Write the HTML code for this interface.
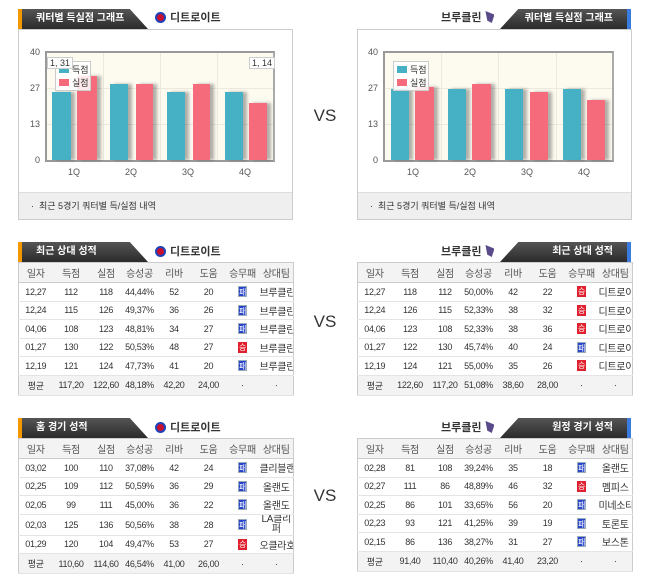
<!DOCTYPE html>
<html><head><meta charset="utf-8"><style>
*{margin:0;padding:0;box-sizing:border-box}
body{width:650px;height:588px;background:#fff;position:relative;overflow:hidden;font-family:"Liberation Sans","Noto Sans CJK KR",sans-serif;color:#333}
.a{position:absolute}
.tabL{position:absolute;height:20px;background:linear-gradient(#555,#2b2b2b);color:#fff;font-size:10px;font-weight:bold;line-height:20px;padding-left:14px;clip-path:polygon(0 0,86% 0,100% 100%,0 100%);border-left:4px solid #f39800}
.tabR{position:absolute;height:20px;background:linear-gradient(#555,#2b2b2b);color:#fff;font-size:10px;font-weight:bold;line-height:20px;text-align:right;padding-right:14px;clip-path:polygon(14% 0,100% 0,100% 100%,0 100%);border-right:4px solid #3a7be0}
.team{position:absolute;font-size:11px;font-weight:bold;color:#333;line-height:14px}
.logoD{display:inline-block;width:11px;height:11px;border-radius:50%;background:#c8102e;border:2px solid #1d42ba;vertical-align:-2px;margin-right:4px}
.logoB{display:inline-block;width:9px;height:12px;background:#5a4a8a;clip-path:polygon(0 0,100% 30%,70% 100%,20% 80%);vertical-align:-2px;margin-left:4px}
.box{position:absolute;border:1px solid #ccc;background:#fff}
.plot{position:absolute;background:#fdfaf0;border:2px solid #999;border-right-color:#aaa}
.g{position:absolute;background:#ece9dd}
.yl{position:absolute;font-size:9px;color:#555;width:20px;text-align:right}
.xl{position:absolute;font-size:9px;color:#555;width:30px;text-align:center}
.bar{position:absolute;box-shadow:4px 0 3px rgba(0,0,0,.3)}
.t{background:#46b0c5}.p{background:#f56b7b}
.foot{position:absolute;background:#efefef;border-top:1px solid #ddd;font-size:9px;color:#333;line-height:27px;padding-left:12px}
.vs{position:absolute;font-size:17px;color:#333;width:30px;text-align:center}
table{position:absolute;border-collapse:collapse;table-layout:fixed;font-size:9px;color:#333;border:1px solid #ccc}
td{text-align:center;border-bottom:1px solid #e4e4e4;height:18.5px;padding:0;white-space:nowrap;overflow:hidden;letter-spacing:-.3px}
tr.h td{background:#f3f3f3;height:20px;color:#555;border-bottom:1px solid #ccc;font-size:10px}
tr.v td{background:#f3f3f3;height:20px}
td.n{font-size:10px}
.L{display:inline-block;width:9px;height:11px;background:#2845c9;color:#fff;font-size:8px;line-height:11px;border:1px solid #9ab}
.W{display:inline-block;width:9px;height:11px;background:#e0202e;color:#fff;font-size:8px;line-height:11px}
</style></head><body>

<!-- Top left chart -->
<div class="tabL" style="left:18px;top:9px;width:130px">쿼터별 득실점 그래프</div>
<div class="team" style="left:155px;top:11px"><span class="logoD"></span>디트로이트</div>
<div class="box" style="left:18px;top:29px;width:275px;height:191px"></div>
<div class="plot" style="left:45px;top:51px;width:230px;height:111px"></div>
<div class="g" style="left:47px;top:88px;width:226px;height:1px"></div>
<div class="g" style="left:47px;top:124px;width:226px;height:1px"></div>
<div class="g" style="left:103px;top:53px;width:1px;height:107px"></div>
<div class="g" style="left:160px;top:53px;width:1px;height:107px"></div>
<div class="g" style="left:217px;top:53px;width:1px;height:107px"></div>
<div class="yl" style="left:20px;top:47px">40</div>
<div class="yl" style="left:20px;top:83px">27</div>
<div class="yl" style="left:20px;top:119px">13</div>
<div class="yl" style="left:20px;top:155px">0</div>
<div class="bar t" style="left:52px;top:92px;width:19px;height:68px"></div>
<div class="bar p" style="left:77px;top:76px;width:20px;height:84px"></div>
<div class="bar t" style="left:110px;top:84px;width:18px;height:76px"></div>
<div class="bar p" style="left:136px;top:84px;width:17px;height:76px"></div>
<div class="bar t" style="left:167px;top:92px;width:18px;height:68px"></div>
<div class="bar p" style="left:193px;top:84px;width:17px;height:76px"></div>
<div class="bar t" style="left:225px;top:92px;width:18px;height:68px"></div>
<div class="bar p" style="left:249px;top:103px;width:18px;height:57px"></div>
<div class="a" style="left:55px;top:61px;width:36px;height:30px;background:rgba(255,255,255,.85);border:1px solid #ccc;font-size:9px;line-height:13px;padding:2px 0 0 3px"><span style="display:inline-block;width:10px;height:7px;background:#46b0c5;margin-right:3px"></span>득점<br><span style="display:inline-block;width:10px;height:7px;background:#f56b7b;margin-right:3px"></span>실점</div>
<div class="a" style="left:47px;top:57px;font-size:9px;background:#fff;border:1px solid #ccc;padding:0 2px">1, 31</div>
<div class="a" style="left:249px;top:57px;font-size:9px;background:#fff;border:1px solid #ccc;padding:0 2px">1, 14</div>
<div class="xl" style="left:59px;top:167px">1Q</div>
<div class="xl" style="left:116px;top:167px">2Q</div>
<div class="xl" style="left:173px;top:167px">3Q</div>
<div class="xl" style="left:230px;top:167px">4Q</div>
<div class="foot" style="left:19px;top:192px;width:273px;height:27px">· &nbsp;최근 5경기 쿼터별 득/실점 내역</div>

<!-- Top right chart -->
<div class="tabR" style="left:500px;top:9px;width:131px">쿼터별 득실점 그래프</div>
<div class="team" style="left:441px;top:11px">브루클린<span class="logoB"></span></div>
<div class="box" style="left:357px;top:29px;width:275px;height:191px"></div>
<div class="plot" style="left:383px;top:51px;width:231px;height:111px"></div>
<div class="g" style="left:385px;top:88px;width:227px;height:1px"></div>
<div class="g" style="left:385px;top:124px;width:227px;height:1px"></div>
<div class="g" style="left:441px;top:53px;width:1px;height:107px"></div>
<div class="g" style="left:498px;top:53px;width:1px;height:107px"></div>
<div class="g" style="left:556px;top:53px;width:1px;height:107px"></div>
<div class="yl" style="left:358px;top:47px">40</div>
<div class="yl" style="left:358px;top:83px">27</div>
<div class="yl" style="left:358px;top:119px">13</div>
<div class="yl" style="left:358px;top:155px">0</div>
<div class="bar t" style="left:391px;top:89px;width:18px;height:71px"></div>
<div class="bar p" style="left:415px;top:87px;width:19px;height:73px"></div>
<div class="bar t" style="left:448px;top:89px;width:18px;height:71px"></div>
<div class="bar p" style="left:472px;top:84px;width:19px;height:76px"></div>
<div class="bar t" style="left:505px;top:89px;width:18px;height:71px"></div>
<div class="bar p" style="left:530px;top:92px;width:18px;height:68px"></div>
<div class="bar t" style="left:563px;top:89px;width:18px;height:71px"></div>
<div class="bar p" style="left:587px;top:100px;width:18px;height:60px"></div>
<div class="a" style="left:393px;top:61px;width:36px;height:30px;background:rgba(255,255,255,.85);border:1px solid #ccc;font-size:9px;line-height:13px;padding:2px 0 0 3px"><span style="display:inline-block;width:10px;height:7px;background:#46b0c5;margin-right:3px"></span>득점<br><span style="display:inline-block;width:10px;height:7px;background:#f56b7b;margin-right:3px"></span>실점</div>
<div class="xl" style="left:398px;top:167px">1Q</div>
<div class="xl" style="left:455px;top:167px">2Q</div>
<div class="xl" style="left:512px;top:167px">3Q</div>
<div class="xl" style="left:569px;top:167px">4Q</div>
<div class="foot" style="left:358px;top:192px;width:273px;height:27px">· &nbsp;최근 5경기 쿼터별 득/실점 내역</div>

<div class="vs" style="left:310px;top:106px">VS</div>
<div class="vs" style="left:310px;top:312px">VS</div>
<div class="vs" style="left:310px;top:486px">VS</div>

<!-- Middle left -->
<div class="tabL" style="left:18px;top:242px;width:130px">최근 상대 성적</div>
<div class="team" style="left:155px;top:245px"><span class="logoD"></span>디트로이트</div>
<table style="left:18px;top:262px;width:275px">
<colgroup><col style="width:34px"><col style="width:37px"><col style="width:33px"><col style="width:34px"><col style="width:35px"><col style="width:34px"><col style="width:34px"><col style="width:34px"></colgroup>
<tr class="h"><td>일자</td><td>득점</td><td>실점</td><td>승성공</td><td>리바</td><td>도움</td><td>승무패</td><td>상대팀</td></tr>
<tr><td>12,27</td><td>112</td><td>118</td><td>44,44%</td><td>52</td><td>20</td><td><span class="L">패</span></td><td class="n">브루클린</td></tr>
<tr><td>12,24</td><td>115</td><td>126</td><td>49,37%</td><td>36</td><td>26</td><td><span class="L">패</span></td><td class="n">브루클린</td></tr>
<tr><td>04,06</td><td>108</td><td>123</td><td>48,81%</td><td>34</td><td>27</td><td><span class="L">패</span></td><td class="n">브루클린</td></tr>
<tr><td>01,27</td><td>130</td><td>122</td><td>50,53%</td><td>48</td><td>27</td><td><span class="W">승</span></td><td class="n">브루클린</td></tr>
<tr><td>12,19</td><td>121</td><td>124</td><td>47,73%</td><td>41</td><td>20</td><td><span class="L">패</span></td><td class="n">브루클린</td></tr>
<tr class="v"><td>평균</td><td>117,20</td><td>122,60</td><td>48,18%</td><td>42,20</td><td>24,00</td><td>·</td><td>·</td></tr>
</table>

<!-- Middle right -->
<div class="tabR" style="left:500px;top:242px;width:131px">최근 상대 성적</div>
<div class="team" style="left:441px;top:245px">브루클린<span class="logoB"></span></div>
<table style="left:357px;top:262px;width:275px">
<colgroup><col style="width:34px"><col style="width:37px"><col style="width:33px"><col style="width:34px"><col style="width:35px"><col style="width:34px"><col style="width:34px"><col style="width:34px"></colgroup>
<tr class="h"><td>일자</td><td>득점</td><td>실점</td><td>승성공</td><td>리바</td><td>도움</td><td>승무패</td><td>상대팀</td></tr>
<tr><td>12,27</td><td>118</td><td>112</td><td>50,00%</td><td>42</td><td>22</td><td><span class="W">승</span></td><td class="n">디트로이</td></tr>
<tr><td>12,24</td><td>126</td><td>115</td><td>52,33%</td><td>38</td><td>32</td><td><span class="W">승</span></td><td class="n">디트로이</td></tr>
<tr><td>04,06</td><td>123</td><td>108</td><td>52,33%</td><td>38</td><td>36</td><td><span class="W">승</span></td><td class="n">디트로이</td></tr>
<tr><td>01,27</td><td>122</td><td>130</td><td>45,74%</td><td>40</td><td>24</td><td><span class="L">패</span></td><td class="n">디트로이</td></tr>
<tr><td>12,19</td><td>124</td><td>121</td><td>55,00%</td><td>35</td><td>26</td><td><span class="W">승</span></td><td class="n">디트로이</td></tr>
<tr class="v"><td>평균</td><td>122,60</td><td>117,20</td><td>51,08%</td><td>38,60</td><td>28,00</td><td>·</td><td>·</td></tr>
</table>

<!-- Bottom left -->
<div class="tabL" style="left:18px;top:418px;width:130px">홈 경기 성적</div>
<div class="team" style="left:155px;top:421px"><span class="logoD"></span>디트로이트</div>
<table style="left:18px;top:438px;width:275px">
<colgroup><col style="width:34px"><col style="width:37px"><col style="width:33px"><col style="width:34px"><col style="width:35px"><col style="width:34px"><col style="width:34px"><col style="width:34px"></colgroup>
<tr class="h"><td>일자</td><td>득점</td><td>실점</td><td>승성공</td><td>리바</td><td>도움</td><td>승무패</td><td>상대팀</td></tr>
<tr><td>03,02</td><td>100</td><td>110</td><td>37,08%</td><td>42</td><td>24</td><td><span class="L">패</span></td><td class="n">클리블랜</td></tr>
<tr><td>02,25</td><td>109</td><td>112</td><td>50,59%</td><td>36</td><td>29</td><td><span class="L">패</span></td><td class="n">올랜도</td></tr>
<tr><td>02,05</td><td>99</td><td>111</td><td>45,00%</td><td>36</td><td>22</td><td><span class="L">패</span></td><td class="n">올랜도</td></tr>
<tr><td style="height:21px">02,03</td><td>125</td><td>136</td><td>50,56%</td><td>38</td><td>28</td><td><span class="L">패</span></td><td class="n" style="white-space:normal;line-height:10px">LA클리퍼</td></tr>
<tr><td>01,29</td><td>120</td><td>104</td><td>49,47%</td><td>53</td><td>27</td><td><span class="W">승</span></td><td class="n">오클라호</td></tr>
<tr class="v"><td>평균</td><td>110,60</td><td>114,60</td><td>46,54%</td><td>41,00</td><td>26,00</td><td>·</td><td>·</td></tr>
</table>

<!-- Bottom right -->
<div class="tabR" style="left:500px;top:418px;width:131px">원정 경기 성적</div>
<div class="team" style="left:441px;top:421px">브루클린<span class="logoB"></span></div>
<table style="left:357px;top:438px;width:275px">
<colgroup><col style="width:34px"><col style="width:37px"><col style="width:33px"><col style="width:34px"><col style="width:35px"><col style="width:34px"><col style="width:34px"><col style="width:34px"></colgroup>
<tr class="h"><td>일자</td><td>득점</td><td>실점</td><td>승성공</td><td>리바</td><td>도움</td><td>승무패</td><td>상대팀</td></tr>
<tr><td>02,28</td><td>81</td><td>108</td><td>39,24%</td><td>35</td><td>18</td><td><span class="L">패</span></td><td class="n">올랜도</td></tr>
<tr><td>02,27</td><td>111</td><td>86</td><td>48,89%</td><td>46</td><td>32</td><td><span class="W">승</span></td><td class="n">멤피스</td></tr>
<tr><td>02,25</td><td>86</td><td>101</td><td>33,65%</td><td>56</td><td>20</td><td><span class="L">패</span></td><td class="n">미네소타</td></tr>
<tr><td>02,23</td><td>93</td><td>121</td><td>41,25%</td><td>39</td><td>19</td><td><span class="L">패</span></td><td class="n">토론토</td></tr>
<tr><td>02,15</td><td>86</td><td>136</td><td>38,27%</td><td>31</td><td>27</td><td><span class="L">패</span></td><td class="n">보스톤</td></tr>
<tr class="v"><td>평균</td><td>91,40</td><td>110,40</td><td>40,26%</td><td>41,40</td><td>23,20</td><td>·</td><td>·</td></tr>
</table>

</body></html>
